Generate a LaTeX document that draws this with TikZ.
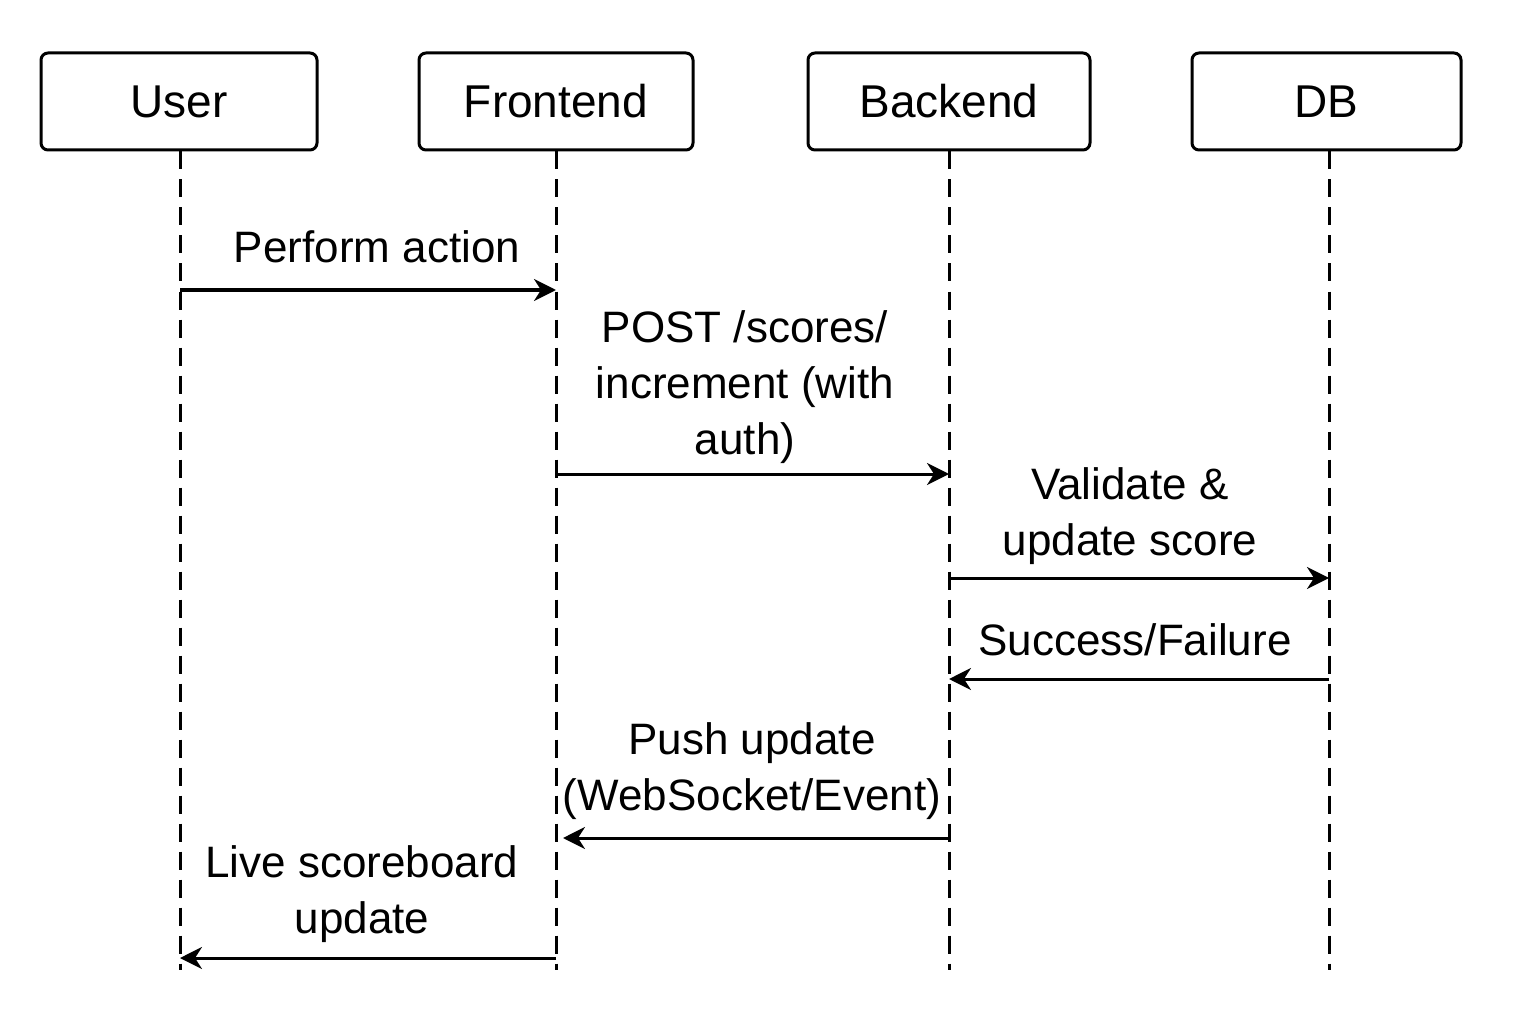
\documentclass[tikz,border=0pt]{standalone}
\usepackage{fontspec}
\setmainfont{Liberation Sans}
\usetikzlibrary{arrows.meta}
\begin{document}
\begin{tikzpicture}[x=1pt,y=-1pt,
  actor/.style={draw, line width=3pt, rounded corners=7pt, minimum height=97pt, inner sep=0pt, font=\fontsize{46}{56}\selectfont},
  life/.style={line width=3pt, dash pattern=on 18pt off 10pt},
  msg/.style={line width=3pt, -{Stealth[length=22pt,width=22pt,inset=7pt]}},
  lbl/.style={align=center, inner sep=0pt, font=\fontsize{44}{56}\selectfont}
]
\useasboundingbox (0,0) rectangle (1536,1024);
\fill[white] (0,0) rectangle (1536,1024);
% actors
\node[actor, minimum width=276pt] (user) at (179,101.5) {User};
\node[actor, minimum width=274pt] (fe) at (556,101.5) {Frontend};
\node[actor, minimum width=282pt] (be) at (949,101.5) {Backend};
\node[actor, minimum width=269pt] (db) at (1326.5,101.5) {DB};
% lifeline ends
\coordinate (userE) at (180,970);
\coordinate (feE) at (556,970);
\coordinate (beE) at (949,970);
\coordinate (dbE) at (1329,970);
\draw[life] (user.south -| userE) -- (userE);
\draw[life] (fe.south -| feE) -- (feE);
\draw[life] (be.south -| beE) -- (beE);
\draw[life] (db.south -| dbE) -- (dbE);
% message points
\coordinate (m1a) at (180,290); \coordinate (m1b) at (556,290);
\coordinate (m2a) at (556,474); \coordinate (m2b) at (949,474);
\coordinate (m3a) at (949,578); \coordinate (m3b) at (1329,578);
\coordinate (m4a) at (1329,679); \coordinate (m4b) at (949,679);
\coordinate (m5a) at (949,838); \coordinate (m5b) at (563,838);
\coordinate (m6a) at (556,958); \coordinate (m6b) at (180,958);
\draw[msg] (m1a) -- (m1b);
\draw[msg] (m2a) -- (m2b);
\draw[msg] (m3a) -- (m3b);
\draw[msg] (m4a) -- (m4b);
\draw[msg] (m5a) -- (m5b);
\draw[msg] (m6a) -- (m6b);
% labels (anchor=base is the baseline of the last line)
\node[lbl, anchor=base] (l1) at (377,263) {Perform action};
\node[lbl, anchor=base] (l2) at (745,454) {POST /scores/\\increment (with\\auth)};
\node[lbl, anchor=base] (l3) at (1130,555) {Validate \&\\update score};
\node[lbl, anchor=base] (l4) at (1135,655) {Success/Failure};
\node[lbl, anchor=base] (l5) at (752,810) {Push update\\(WebSocket/Event)};
\node[lbl, anchor=base] (l6) at (362,933) {Live scoreboard\\update};
\end{tikzpicture}
\end{document}
